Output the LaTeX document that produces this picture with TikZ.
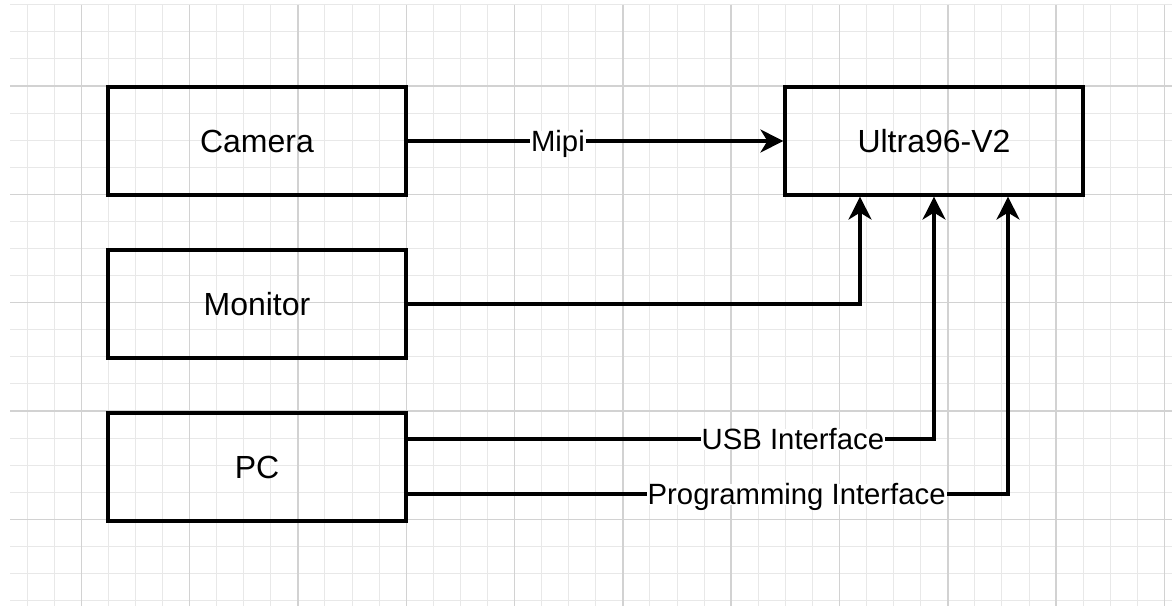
\documentclass[tikz,border=0pt]{standalone}
\usepackage{fontspec}
\setmainfont{Liberation Sans}
\usetikzlibrary{arrows.meta}
\definecolor{gridminor}{HTML}{E8E8E8}
\definecolor{gridmajor}{HTML}{D2D2D2}
\begin{document}
\begin{tikzpicture}[x=1pt,y=-1pt,
  box/.style={draw,line width=3.2pt,minimum width=298pt,minimum height=108pt,
    font=\fontsize{32}{38}\selectfont,inner sep=0pt},
  conn/.style={line width=3.1pt,-{Stealth[length=23pt,width=23pt,inset=7pt]}},
  lbl/.style={fill=white,font=\fontsize{29.3}{35}\selectfont,inner xsep=1pt,
    inner ysep=0pt,text height=21pt,text depth=0pt},
  minorline/.style={draw=gridminor,line width=1pt},
  majorline/.style={draw=gridmajor,line width=1.4pt}]
\useasboundingbox[fill=white] (0,0) rectangle (1172,606);
% grid
\foreach \k in {1,...,43} \draw[minorline] ({27.08*\k},4.8) -- ({27.08*\k},606);
\foreach \k in {0,...,22} \draw[minorline] (10,{4.8+27.08*\k}) -- (1172,{4.8+27.08*\k});
\foreach \k in {3,7,...,43} \draw[majorline] ({27.08*\k},4.8) -- ({27.08*\k},606);
\foreach \k in {3,7,11,15,19} \draw[majorline] (10,{4.8+27.08*\k}) -- (1172,{4.8+27.08*\k});
% boxes
\node[box] (cam) at (257,141) {Camera};
\node[box] (mon) at (257,304) {Monitor};
\node[box] (pc) at (257,467) {PC};
\node[box] (u96) at (934,141) {Ultra96-V2};
% connectors
\draw[conn] (cam) -- node[lbl,pos=0.40] {Mipi} (u96);
\draw[conn] (mon.east) -| ([xshift=-74pt]u96.south);
\draw[conn] ([yshift=28pt]pc.east) -| node[lbl,pos=0.366] {USB Interface} (u96.south);
\draw[conn] ([yshift=-27pt]pc.east) -| node[lbl,pos=0.324] {Programming Interface} ([xshift=74pt]u96.south);
\end{tikzpicture}
\end{document}
